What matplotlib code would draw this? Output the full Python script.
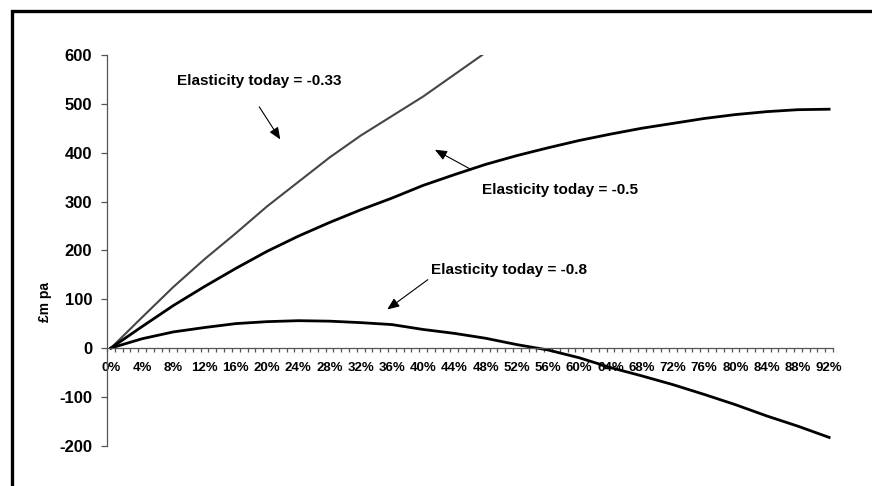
import matplotlib
matplotlib.use("Agg")
import matplotlib.pyplot as plt
import numpy as np
from matplotlib.patches import Rectangle

plt.rcParams['font.family'] = ['Liberation Sans', 'DejaVu Sans']
plt.rcParams['font.weight'] = 'bold'
plt.rcParams['axes.unicode_minus'] = False

# Categories: 0% .. 92% in 1% steps; values read every 4%
categories = [f"{i}%" for i in range(0, 93)]
sample_idx = list(range(0, 93, 4))
tick_labels = [f"{i}%" for i in sample_idx]

elast_033 = [0, 63, 125, 182, 235, 290, 340, 390, 435, 475, 515, 560, 605]
elast_05 = [0, 44, 87, 126, 163, 198, 229, 257, 283, 307, 333, 355, 376,
            394, 410, 425, 438, 450, 460, 470, 478, 484, 488, 489]
elast_08 = [0, 19, 33, 42, 50, 54, 56, 55, 52, 48, 38, 30, 20, 7, -4, -20,
            -40, -57, -75, -95, -116, -139, -160, -183]

W, H = 872, 486
fig = plt.figure(figsize=(W / 100, H / 100), dpi=100)
ax = fig.add_axes([107 / W, 1 - 445.7 / H, (833 - 107) / W, (445.7 - 55) / H])

ax.plot(sample_idx[:len(elast_033)], elast_033, color='#454545', lw=1.5)
ax.plot(sample_idx, elast_05, color='black', lw=2.0)
ax.plot(sample_idx, elast_08, color='black', lw=2.0)

ax.set_xlim(-0.5, len(categories) - 0.5)
ax.set_ylim(-200, 600)

for s in ['top', 'right']:
    ax.spines[s].set_visible(False)
ax.spines['bottom'].set_position(('data', 0))
for s in ['left', 'bottom']:
    ax.spines[s].set_color('#555555')
    ax.spines[s].set_linewidth(0.9)

ax.set_yticks(range(-200, 601, 100))
ax.tick_params(axis='y', direction='out', length=4.3, width=0.9, color='#555555',
               pad=6.5, labelsize=12)
for lbl in ax.get_yticklabels():
    lbl.set_fontweight('bold')

ax.set_xticks(sample_idx)
ax.set_xticklabels(tick_labels, fontsize=9.5, fontweight='bold')
ax.set_xticks(np.arange(-0.5, len(categories), 1), minor=True)
ax.tick_params(axis='x', which='major', length=0, pad=10)
ax.tick_params(axis='x', which='minor', direction='out', length=3, width=0.9,
               color='#555555')

fig.text(45 / W, 1 - 302 / H, "£m pa", rotation=90, ha='center', va='center',
         fontsize=10, fontweight='bold')

aprops = dict(arrowstyle='-|>,head_length=0.6,head_width=0.25', color='black',
              lw=0.8, mutation_scale=12, shrinkA=0, shrinkB=0)
ax.text(8.46, 547, "Elasticity today = -0.33", fontsize=11, fontweight='bold',
        ha='left', va='center')
ax.annotate('', xy=(21.7, 427), xytext=(19.0, 494), arrowprops=aprops)
ax.text(47.6, 324, "Elasticity today = -0.5", fontsize=11, fontweight='bold',
        ha='left', va='center')
ax.annotate('', xy=(41.5, 406), xytext=(46.2, 365), arrowprops=aprops)
ax.text(41.0, 160, "Elasticity today = -0.8", fontsize=11, fontweight='bold',
        ha='left', va='center')
ax.annotate('', xy=(35.4, 79), xytext=(40.6, 140), arrowprops=aprops)

# outer frame (extends beyond right/bottom edges as in reference)
fig.patches.append(Rectangle((12, -20), W + 20, H - 10.5 + 20, transform=None,
                             fill=False, edgecolor='black', lw=2.4))

fig.savefig("out.png", dpi=100)
